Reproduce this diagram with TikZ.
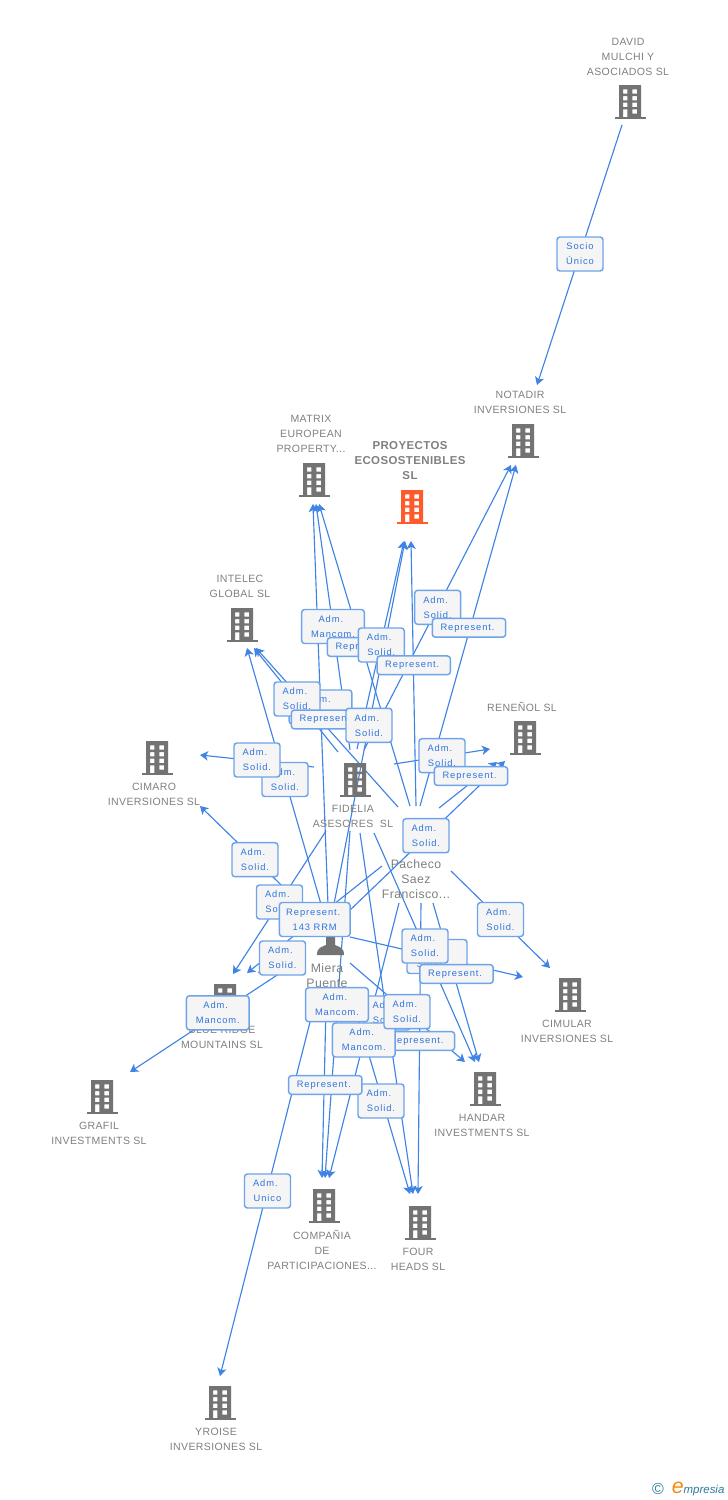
\documentclass[tikz,border=0pt]{standalone}
\usepackage{fontspec}
\usetikzlibrary{arrows.meta}
\setmainfont{Liberation Sans}
\newfontfamily\lblfont[LetterSpace=10]{Liberation Sans}
\newfontfamily\namefont[LetterSpace=3.5]{Liberation Sans}
\definecolor{lnk}{HTML}{3F84E5}
\definecolor{bdr}{HTML}{6FA3EA}
\definecolor{lbl}{HTML}{2F74DC}
\definecolor{txt}{HTML}{808080}
\definecolor{bld}{HTML}{737373}
\definecolor{orng}{HTML}{FF5A2B}
\definecolor{teal}{HTML}{2E7B9B}
\definecolor{logoorange}{HTML}{F58A12}
\tikzset{
  link/.style={draw=lnk,line width=0.85pt,-{Stealth[length=6pt,width=7pt,inset=1.6pt]}},
  tagbox/.style={draw=bdr,line width=1.1pt,rounded corners=2.2pt,top color=black!4,middle color=white,bottom color=black!4,
     inner sep=0pt,text=lbl,align=center,font=\fontsize{7}{11.25}\lblfont,anchor=center},
  tagtwo/.style={tagbox,minimum width=34.5pt,minimum height=25.5pt},
  tagmc/.style={tagbox,minimum width=47pt,minimum height=25.5pt},
  tagrep/.style={tagbox,minimum width=55pt,minimum height=14pt},
  cname/.style={text=txt,align=center,inner sep=0pt,font=\fontsize{7.9}{11.25}\namefont},
  bname/.style={text=txt,align=center,inner sep=0pt,font=\fontsize{8.6}{11.25}\bfseries\namefont},
  pname/.style={cname,font=\fontsize{9.2}{11.25}\namefont},
  bbox/.style={inner sep=0pt,minimum width=23pt,minimum height=25pt},
}
\newcommand\Adm{Adm.\hspace*{3.2pt}}
\newcommand\Rpr{Represent.\hspace*{2.2pt}}
% \bldg{name}{x,y}{colour}: building whose node is centred at x,y
\newcommand\bldg[3]{%
  \node[bbox] (#1) at (#2) {};
  \begin{scope}[shift={(#1.center)}]
    \fill[#3,even odd rule] (-11,-17) rectangle (11,15)
      (-7,-12.7) rectangle (-2.7,-8.3) (2.3,-12.7) rectangle (7,-8.3)
      (-7,-6) rectangle (-2.7,-1.7) (2.3,-6) rectangle (7,-1.7)
      (-7,0.7) rectangle (-2.7,5) (2.3,0.7) rectangle (7,5)
      (-7,7.3) rectangle (-2.7,15) (2.3,7.3) rectangle (7,11.7);
    \fill[#3] (-15.5,15) rectangle (15.5,17);
  \end{scope}}
\newcommand\conn[3]{%
  \coordinate (#1s) at (#2);
  \coordinate (#1t) at (#3);
  \draw[link] (#1s) -- (#1t);}
\begin{document}
\begin{tikzpicture}[x=0.75pt,y=-0.75pt]
\useasboundingbox (0,0) rectangle (728,1500);
\fill[white] (0,0) rectangle (728,1500);
% connectors
\conn{da}{622,125}{537,385}
\conn{fm}{350,750}{316,504}
\conn{pm}{410,806}{319,504}
\conn{mm}{328,905}{313,504}
\conn{fp}{357,749}{404,541}
\conn{mp}{333,909}{405,541}
\conn{pp}{416,806}{411,541}
\conn{fn}{364,750}{511,465}
\conn{pn}{420,806}{516,465}
\conn{pi}{398,807}{256,648}
\conn{fi}{338,752}{254,648}
\conn{mi}{323,911}{247,648}
\conn{fc}{314,767}{200,755}
\conn{mc}{310,913}{200,806}
\conn{fb}{326,831}{233,974}
\conn{pb}{382,866}{247,973}
\conn{mb}{300,947}{258,973}
\conn{mg}{303,958}{130,1072}
\conn{mr}{348,912}{505,761}
\conn{fr}{394,764}{490,749}
\conn{pr}{439,808}{497,762}
\conn{pc}{451,871}{550,968}
\conn{mu}{350,937}{523,977}
\conn{fh}{374,833}{475,1062}
\conn{ph}{433,903}{479,1062}
\conn{mh}{350,963}{465,1062}
\conn{ff}{360,833}{413,1194}
\conn{pf}{421,903}{418,1194}
\conn{mf}{355,1008}{410,1194}
\conn{pk}{399,903}{329,1178}
\conn{fk}{350,831}{325,1178}
\conn{mk}{326,1006}{322,1178}
\conn{my}{310,1022}{220,1376}
% buildings
\bldg{david}{630,102}{bld}
\bldg{notadir}{523,441}{bld}
\bldg{matrix}{314,480}{bld}
\bldg{proy}{412,507}{orng}
\bldg{intelec}{242,625}{bld}
\bldg{renenol}{525,738}{bld}
\bldg{cimaro}{157,758}{bld}
\bldg{fidelia}{355,780}{bld}
\bldg{blue}{225,1001}{bld}
\bldg{cimular}{570,995}{bld}
\bldg{handar}{485,1089}{bld}
\bldg{grafil}{102,1097}{bld}
\bldg{compania}{324,1206}{bld}
\bldg{four}{420,1223}{bld}
\bldg{yroise}{220,1403}{bld}
% person
\node[inner sep=0pt,minimum size=1pt] (miera) at (330,946) {};
\fill[bld] (317,955) .. controls (317,947) and (322,947) .. (326,945)
   -- (326,937) -- (335,937) -- (335,945) .. controls (339,947) and (344,947) .. (344,955) -- cycle;
% names
\node[cname] (tdavid) at (628,57) {DAVID\\MULCHI Y\\ASOCIADOS SL};
\node[cname] (tnotadir) at (520,402.5) {NOTADIR\\INVERSIONES SL};
\node[cname] (tmatrix) at (311,434) {MATRIX\\EUROPEAN\\PROPERTY...};
\node[bname] (tproy) at (410,461) {PROYECTOS\\ECOSOSTENIBLES\\SL};
\node[cname] (tintelec) at (240,586.5) {INTELEC\\GLOBAL SL};
\node[cname] (trenenol) at (522,707) {RENEÑOL SL};
\node[cname] (tcimaro) at (154,794.5) {CIMARO\\INVERSIONES SL};
\node[cname] (tfidelia) at (353,816.5) {FIDELIA\\ASESORES\ \ SL};
\node[cname] (tblue) at (222,1037.5) {BLUE RIDGE\\MOUNTAINS SL};
\node[cname] (tcimular) at (567,1031.5) {CIMULAR\\INVERSIONES SL};
\node[cname] (thandar) at (482,1125.5) {HANDAR\\INVESTMENTS SL};
\node[cname] (tgrafil) at (99,1133.5) {GRAFIL\\INVESTMENTS SL};
\node[cname] (tcompania) at (322,1250) {COMPAÑIA\\DE\\PARTICIPACIONES...};
\node[cname] (tfour) at (418,1259.5) {FOUR\\HEADS SL};
\node[cname] (tyroise) at (216,1439.5) {YROISE\\INVERSIONES SL};
\node[pname] (tpacheco) at (416,879) {Pacheco\\Saez\\Francisco...};
\node[pname] (tmiera) at (327,975.5) {Miera\\Puente};
% labels
\node[tagtwo] (l1) at (580,254) {Socio\\Único};
\node[tagmc] (l2) at (333,626.5) {\Adm\\Mancom.};
\node[tagrep] (l3) at (364,647) {\Rpr};
\node[tagtwo] (l4) at (381.3,645) {\Adm\\Solid.};
\node[tagrep] (l5) at (413.7,665.3) {\Rpr};
\node[tagtwo] (l6) at (437.7,607.3) {\Adm\\Solid.};
\node[tagrep] (l7) at (469,627.8) {\Rpr};
\node[tagmc] (l8) at (320.5,707) {\Adm\\Mancom.};
\node[tagtwo] (l9) at (297,699) {\Adm\\Solid.};
\node[tagrep] (l10) at (328,719.5) {\Rpr};
\node[tagtwo] (l11) at (369,725.3) {\Adm\\Solid.};
\node[tagtwo] (l12) at (442,755.7) {\Adm\\Solid.};
\node[tagrep] (l13) at (471,776) {\Rpr};
\node[tagtwo] (l14) at (285,779.5) {\Adm\\Solid.};
\node[tagtwo] (l15) at (257,760) {\Adm\\Solid.};
\node[tagtwo] (l16) at (426,835.7) {\Adm\\Solid.};
\node[tagtwo] (l17) at (255,859.7) {\Adm\\Solid.};
\node[tagtwo] (l18) at (279.5,902) {\Adm\\Solid.};
\node[tagbox,minimum width=53pt,minimum height=25.5pt] (l19) at (314.7,919.5) {\Rpr\\143 RRM};
\node[tagtwo] (l20) at (282.5,958) {\Adm\\Solid.};
\node[tagtwo] (l21) at (500.5,919.5) {\Adm\\Solid.};
\node[tagbox,minimum width=45pt,minimum height=25.5pt] (l22) at (437,956.5) {\Adm\hspace*{7pt}\\Solid.\hspace*{9pt}};
\node[tagtwo] (l23) at (425,946) {\Adm\\Solid.};
\node[tagrep] (l24) at (456.5,974) {\Rpr};
\node[tagmc] (l25) at (217.8,1012.8) {\Adm\\Mancom.};
\node[tagrep] (l26) at (418,1041) {\Rpr};
\node[tagtwo] (l27) at (387,1013) {\Adm\\Solid.};
\node[tagmc] (l28) at (337,1004.7) {\Adm\\Mancom.};
\node[tagmc] (l29) at (363.8,1040) {\Adm\\Mancom.};
\node[tagtwo] (l30) at (407,1011.7) {\Adm\\Solid.};
\node[tagtwo] (l31) at (381,1101) {\Adm\\Solid.};
\node[tagrep] (l32) at (325.3,1085) {\Rpr};
\node[tagtwo] (l33) at (267.5,1191) {\Adm\\Unico};
% logo
\node[inner sep=0pt,text=teal,font=\fontsize{12}{12}\selectfont] (copy) at (658,1489) {©};
\node[inner sep=0pt,anchor=base west,text=teal,font=\fontsize{8.6}{10}\selectfont\itshape] (logo) at (671.5,1493) {\textcolor{logoorange}{\fontsize{16}{16}\selectfont e}mpresia};
\end{tikzpicture}
\end{document}
